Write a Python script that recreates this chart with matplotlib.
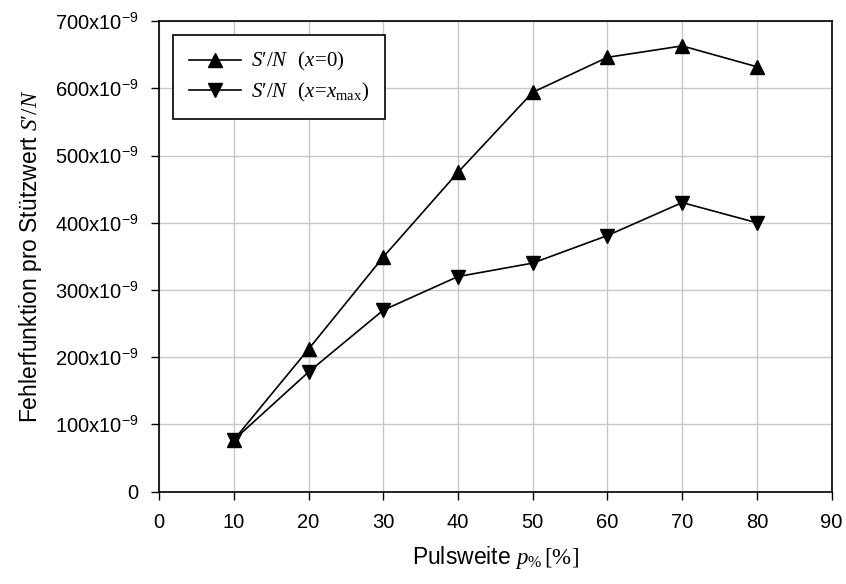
import matplotlib
matplotlib.use("Agg")
import matplotlib.pyplot as plt

plt.rcParams['font.family'] = ['Liberation Sans', 'DejaVu Sans']
plt.rcParams['mathtext.fontset'] = 'custom'
plt.rcParams['mathtext.rm'] = 'Liberation Serif'
plt.rcParams['mathtext.it'] = 'Liberation Serif:italic'
plt.rcParams['mathtext.sf'] = 'Liberation Sans'

# Pulse width in %
pulse = [10, 20, 30, 40, 50, 60, 70, 80]
# error function per sample point (units of 1e-9)
err_x0 = [77, 212, 349, 475, 594, 646, 663, 632]
err_xmax = [77, 178, 270, 320, 340, 381, 430, 400]

y_ticks = [0, 100, 200, 300, 400, 500, 600, 700]
y_labels = ['0'] + [r'%dx10$^{\mathsf{-9}}$' % v for v in y_ticks[1:]]

fig = plt.figure(figsize=(8.46, 5.84), dpi=100)
ax = fig.add_axes([0.188, 0.158, 0.795, 0.806])

ax.plot(pulse, err_x0, color='black', linewidth=1.2, marker='^',
        markersize=10, label="$S\u2032/N$  $(x\\!=\\!0)$")
ax.plot(pulse, err_xmax, color='black', linewidth=1.2, marker='v',
        markersize=10, label="$S\u2032/N$  $(x\\!=\\!x_{\\mathrm{max}})$")

ax.set_xlim(0, 90)
ax.set_ylim(0, 700)
ax.set_xticks(range(0, 100, 10))
ax.set_yticks(y_ticks)
ax.set_yticklabels(y_labels)
ax.tick_params(direction='out', length=6, width=1, labelsize=14.5)
ax.tick_params(axis='x', pad=9)
ax.tick_params(axis='y', pad=9)
ax.grid(True, color='#c8c8c8', linewidth=1)
ax.set_axisbelow(True)
for s in ax.spines.values():
    s.set_color('black')
    s.set_linewidth(1.2)

ax.set_xlabel(r"Pulsweite $p_{\mathit{\%}}\,[\%]$", fontsize=16.5, labelpad=9)
ax.set_ylabel("Fehlerfunktion pro Stützwert $S\u2032/N$", fontsize=16.5, labelpad=8)

leg = ax.legend(loc='upper left', bbox_to_anchor=(0.021, 0.971), fontsize=15,
                fancybox=False, framealpha=1, edgecolor='black',
                handlelength=2.5, handletextpad=0.5, borderpad=0.75,
                labelspacing=0.35, borderaxespad=0)
leg.get_frame().set_linewidth(1.2)

fig.savefig('out.png', dpi=100)
